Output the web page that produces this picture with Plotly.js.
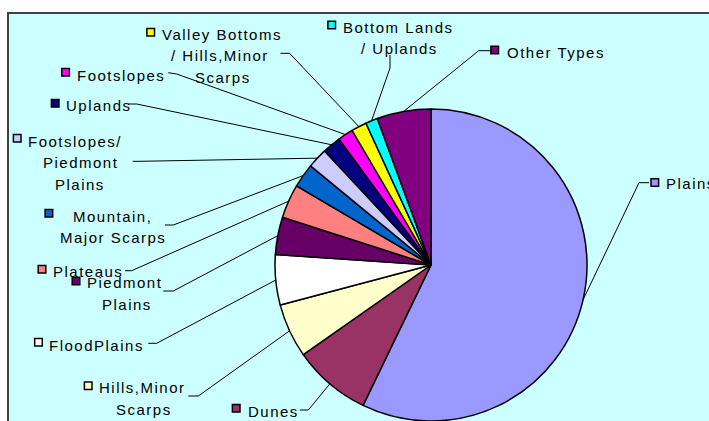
<!DOCTYPE html>
<html><head><meta charset="utf-8">
<script src="https://cdn.plot.ly/plotly-3.0.1.min.js"></script>
<style>
html,body{margin:0;padding:0;background:#fff;}
.annotation-text{letter-spacing:1.5px;}
</style>
</head><body>
<div id="chart" style="width:709px;height:421px;"></div>
<script>
// ---- data ----
const categories = ["Plains","Dunes","Hills, Minor Scarps","Flood Plains","Piedmont Plains","Plateaus",
  "Mountain, Major Scarps","Footslopes / Piedmont Plains","Uplands","Footslopes",
  "Valley Bottoms / Hills, Minor Scarps","Bottom Lands / Uplands","Other Types"];
const values = [57.2, 8.1, 5.6, 5.2, 3.9, 3.5, 2.5, 2.1, 1.9, 1.6, 1.6, 1.25, 5.6];
const labelLines = [
  ["Plains"], ["Dunes"], ["Hills,Minor","Scarps"], ["FloodPlains"], ["Piedmont","Plains"], ["Plateaus"],
  ["Mountain,","Major Scarps"], ["Footslopes/","Piedmont","Plains"], ["Uplands"], ["Footslopes"],
  ["Valley Bottoms","/ Hills,Minor","Scarps"], ["Bottom Lands","/ Uplands"], ["Other Types"]
];
// ---- styles ----
const colors = ["#9999FF","#993366","#FFFFCC","#FFFFFF","#660066","#FF8080",
  "#0066CC","#CCCCFF","#000080","#FF00FF","#FFFF00","#00FFFF","#800080"];

// ---- layout (pixel positions) ----
const W = 709, H = 421;
const CX = 431, CY = 265, R = 156;
// per slice: marker centre, text lines [left x, centre y], leader start and elbow
const labelPos = [
  {m:[654.8,182.5], t:[[665,183.5]], s:[649,182.7], e:[639,182.7]},
  {m:[236.2,408.3], t:[[246.6,411.5]], s:[300,410], e:[308.3,410]},
  {m:[88.2,385.7], t:[[98.2,387.3],[115.4,409.3]], s:[188.3,396], e:[198.3,396]},
  {m:[38.5,342.3], t:[[48.4,345]], s:[148.3,343.3], e:[156.7,343.3]},
  {m:[76,281], t:[[86,282.7],[100.5,304]], s:[163.3,291], e:[173.3,291]},
  {m:[42,269.3], t:[[52,271.7]], s:[125,270.7], e:[131.7,270.7]},
  {m:[48.9,213.3], t:[[71.5,216.7],[58.8,237.7]], s:[165,225], e:[173.3,225]},
  {m:[17.2,138.3], t:[[27,141.7],[41.6,162.7],[54.3,184.3]], s:[132.7,161.3], e:[140,161.3]},
  {m:[55.2,103.3], t:[[64.7,106]], s:[128.3,104], e:[136.7,104]},
  {m:[65.6,72.3], t:[[75.6,76]], s:[168.3,72.7], e:[176.7,74]},
  {m:[150.7,32.3], t:[[160.6,34.3],[170,55.7],[193.7,77.7]], s:[280.5,53.3], e:[289.6,53.3]},
  {m:[331.7,25], t:[[341.6,27.3],[359.7,49]], s:[390,55], e:[390,68]},
  {m:[494.7,50], t:[[505.5,52.7]], s:[491,50.7], e:[478.7,50.7]}
];

const px = x => x / W;
const py = y => 1 - y / H;

const total = values.reduce((a,b)=>a+b,0);
const shapes = [{
  type:'rect', xref:'paper', yref:'paper', layer:'below',
  x0:px(8), x1:px(730), y0:py(13), y1:py(440),
  fillcolor:'#CCFFFF', line:{color:'#404040', width:2}
}];
const annotations = [];
let cum = 0;
values.forEach((v,i) => {
  const th = 2*Math.PI*(cum + v/2)/total;
  cum += v;
  const ex = CX + R*Math.sin(th), ey = CY - R*Math.cos(th);
  const L = labelPos[i];
  shapes.push({type:'path', xref:'paper', yref:'paper', layer:'above',
    path:`M ${px(L.s[0])},${py(L.s[1])} L ${px(L.e[0])},${py(L.e[1])} L ${px(ex)},${py(ey)}`,
    line:{color:'#000', width:1}});
  shapes.push({type:'rect', xref:'paper', yref:'paper', layer:'above',
    x0:px(L.m[0]-3.8), x1:px(L.m[0]+3.8), y0:py(L.m[1]+3.8), y1:py(L.m[1]-3.8),
    fillcolor:colors[i], line:{color:'#000', width:1.5}});
  labelLines[i].forEach((txt,j) => {
    annotations.push({xref:'paper', yref:'paper', x:px(L.t[j][0]), y:py(L.t[j][1]),
      xanchor:'left', yanchor:'middle', align:'left', text:txt, showarrow:false,
      borderpad:0, font:{family:'Liberation Sans, Arial, sans-serif', size:15, color:'#000'}});
  });
});

const data = [{
  type:'pie', labels:categories, values:values, sort:false, direction:'clockwise', rotation:0,
  textinfo:'none', hoverinfo:'none', showlegend:false,
  marker:{colors:colors, line:{color:'#000', width:1.5}},
  domain:{x:[px(CX-R), px(CX+R)], y:[py(CY+R), py(CY-R)]}
}];

Plotly.newPlot('chart', data, {
  width:W, height:H, margin:{l:0,r:0,t:0,b:0},
  paper_bgcolor:'#FFFFFF', showlegend:false,
  shapes:shapes, annotations:annotations
}, {displayModeBar:false, staticPlot:true});
</script>
</body></html>
